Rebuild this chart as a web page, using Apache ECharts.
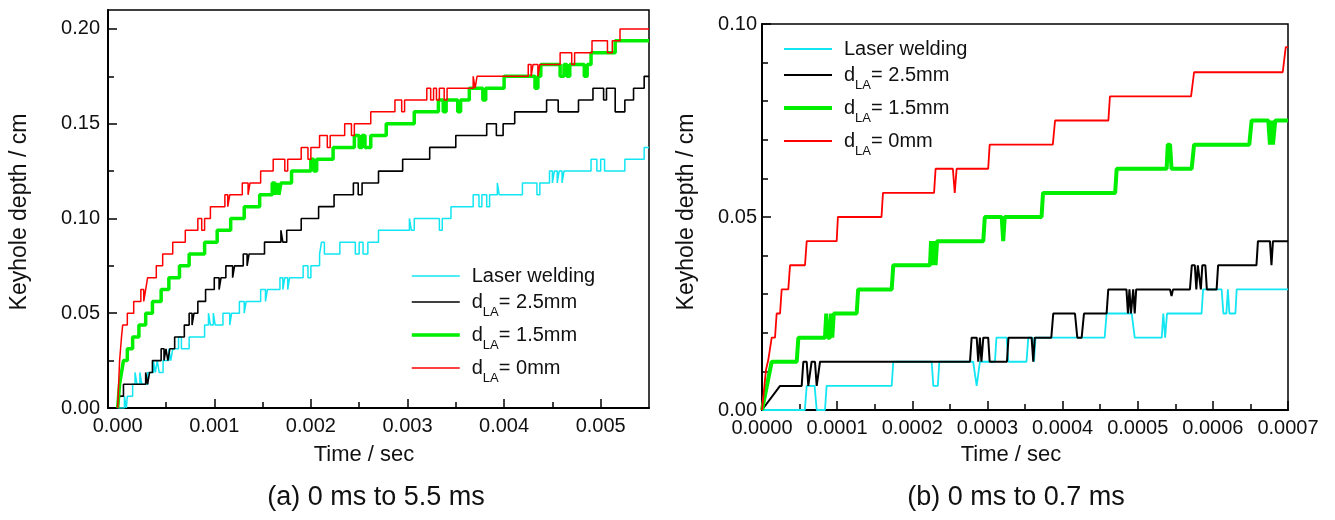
<!DOCTYPE html>
<html>
<head>
<meta charset="utf-8">
<script src="https://cdn.jsdelivr.net/npm/echarts@6/dist/echarts.min.js"></script>
<style>
html,body{margin:0;padding:0;background:#ffffff;}
#c{width:1335px;height:520px;}
</style>
</head>
<body>
<div id="c"></div>
<script>
// ---------- names / captions ----------
const seriesNames = ['Laser welding', 'dLA= 2.5mm', 'dLA= 1.5mm', 'dLA= 0mm'];
const captionA = '(a) 0 ms to 5.5 ms';
const captionB = '(b) 0 ms to 0.7 ms';
const yTitle = 'Keyhole depth / cm';
const xTitle = 'Time / sec';

// ---------- tick values ----------
const xTicksA = [0, 0.001, 0.002, 0.003, 0.004, 0.005];
const xMinorA = [0.0005, 0.0015, 0.0025, 0.0035, 0.0045];
const yTicksA = [0, 0.05, 0.10, 0.15, 0.20];
const yMinorA = [0.025, 0.075, 0.125, 0.175];
const xTicksB = [0, 0.0001, 0.0002, 0.0003, 0.0004, 0.0005, 0.0006, 0.0007];
const xMinorB = [0.00005, 0.00015, 0.00025, 0.00035, 0.00045, 0.00055, 0.00065];
const yTicksB = [0, 0.05, 0.10];
const yMinorB = [0.01, 0.02, 0.03, 0.04, 0.06, 0.07, 0.08, 0.09];

// ---------- panel (a): 0 - 5.5 ms  [time s, depth cm] (stepwise) ----------
const laserA = [
[0,0],[0.00007,0.00625],[0.00009,0],[0.0001,0.00625],[0.000155,0.0125],
[0.00018,0.01875],[0.0002,0.0125],[0.00023,0.01875],[0.00025,0.0125],[0.00031,0.01875],
[0.00037,0.025],[0.00039,0.01875],[0.00041,0.025],[0.00043,0.01875],[0.00047,0.025],
[0.00053,0.03125],[0.00055,0.025],[0.00057,0.03125],[0.00063,0.0375],[0.00066,0.03125],
[0.00074,0.0375],[0.0009,0.04375],[0.00094,0.05],[0.00096,0.04375],[0.00099,0.05],
[0.00101,0.04375],[0.00109,0.05],[0.00116,0.04375],[0.00118,0.05],[0.00126,0.05625],
[0.00131,0.05],[0.00133,0.05625],[0.00148,0.0625],[0.00153,0.05625],[0.00155,0.0625],
[0.00168,0.06875],[0.00171,0.0625],[0.00173,0.06875],[0.00176,0.0625],[0.00178,0.06875],
[0.00192,0.075],[0.00197,0.06875],[0.002,0.075],[0.00209,0.08125],[0.00211,0.0875],
[0.00214,0.08125],[0.0023,0.0875],[0.00246,0.08125],[0.0025,0.0875],[0.00254,0.08125],
[0.00259,0.0875],[0.0027,0.09375],[0.00302,0.1],[0.00304,0.09375],[0.00307,0.1],
[0.00333,0.09375],[0.00336,0.1],[0.00345,0.10625],[0.00368,0.1125],[0.00374,0.10625],
[0.00377,0.1125],[0.00382,0.10625],[0.00385,0.1125],[0.00393,0.11875],[0.00395,0.1125],
[0.00419,0.11875],[0.00434,0.1125],[0.00437,0.11875],[0.00447,0.125],[0.0045,0.11875],
[0.00452,0.125],[0.00455,0.11875],[0.00457,0.125],[0.0046,0.11875],[0.00462,0.125],
[0.0049,0.13125],[0.00496,0.125],[0.005,0.13125],[0.00504,0.125],[0.00525,0.13125],
[0.00545,0.1375],[0.0055,0.1375]
];
const d25A = [
[0,0],[0.00002,0.00625],[0.00006,0.0125],[0.00029,0.01875],[0.00031,0.0125],[0.00033,0.01875],
[0.00036,0.025],[0.00045,0.03125],[0.00048,0.025],[0.0005,0.03125],[0.00052,0.025],[0.00054,0.03125],
[0.00059,0.0375],[0.00069,0.04375],[0.00074,0.05],[0.00077,0.04375],[0.00079,0.05],
[0.00083,0.05625],[0.00091,0.0625],[0.001,0.06875],[0.00105,0.0625],[0.00107,0.06875],
[0.00112,0.075],[0.00119,0.06875],[0.00121,0.075],[0.0013,0.08125],[0.00134,0.075],
[0.00136,0.08125],[0.00152,0.0875],[0.00169,0.09375],[0.00171,0.0875],[0.00175,0.09375],
[0.0019,0.1],[0.00208,0.10625],[0.00224,0.1125],[0.00244,0.11875],[0.00249,0.1125],
[0.00253,0.11875],[0.0027,0.125],[0.00295,0.13125],[0.00323,0.1375],[0.0035,0.14375],
[0.00382,0.15],[0.00392,0.14375],[0.00399,0.15],[0.00411,0.15625],[0.00444,0.1625],
[0.00456,0.15625],[0.00477,0.1625],[0.00492,0.16875],[0.00503,0.1625],[0.00506,0.16875],
[0.00515,0.15625],[0.00525,0.1625],[0.00534,0.16875],[0.00545,0.175],[0.0055,0.175]
];
const d15A = [
[0,0],[0.00001,0.00625],[0.00002,0.0125],[0.00004,0.01875],[0.00006,0.025],[0.0001,0.03125],
[0.000155,0.0375],[0.00022,0.04375],[0.00029,0.05],[0.00036,0.05625],[0.00045,0.0625],
[0.00053,0.06875],[0.00064,0.075],[0.00074,0.08125],[0.0009,0.0875],[0.00103,0.09375],
[0.00117,0.1],[0.00131,0.10625],[0.00147,0.1125],[0.0016,0.11875],[0.00163,0.1125],
[0.00165,0.11875],[0.00167,0.1125],[0.00169,0.11875],[0.0018,0.125],[0.002,0.13125],
[0.00203,0.125],[0.00206,0.13125],[0.00223,0.1375],[0.00245,0.14375],[0.0025,0.1375],
[0.00253,0.14375],[0.00256,0.1375],[0.00262,0.14375],[0.00278,0.15],[0.00307,0.15625],
[0.00332,0.1625],[0.00337,0.15625],[0.0034,0.1625],[0.00352,0.15625],[0.00355,0.1625],
[0.00364,0.16875],[0.00378,0.1625],[0.00381,0.16875],[0.004,0.175],[0.00432,0.16875],
[0.00435,0.175],[0.00438,0.18125],[0.00458,0.175],[0.00462,0.18125],[0.00465,0.175],
[0.00468,0.18125],[0.00483,0.175],[0.00486,0.18125],[0.0049,0.1875],[0.00515,0.19375],
[0.0055,0.19375]
];
const d0A = [
[0,0],[0.00001,0.0125],[0.00002,0.025],[0.00003,0.03125],[0.00004,0.0375],[0.000052,0.04375],
[0.0001,0.05],[0.000166,0.05625],[0.00024,0.0625],[0.00027,0.05625],[0.00029,0.0625],
[0.00031,0.06875],[0.0004,0.075],[0.000466,0.08125],[0.00057,0.0875],[0.0007,0.09375],
[0.00083,0.1],[0.00087,0.09375],[0.0009,0.1],[0.00096,0.10625],[0.00111,0.1125],
[0.00114,0.10625],[0.00116,0.1125],[0.00129,0.11875],[0.00135,0.1125],[0.00137,0.11875],
[0.00148,0.125],[0.00161,0.13125],[0.00173,0.125],[0.00176,0.13125],[0.0019,0.1375],
[0.00197,0.13125],[0.002,0.1375],[0.00209,0.14375],[0.00217,0.1375],[0.0022,0.14375],
[0.00235,0.15],[0.00242,0.14375],[0.00245,0.15],[0.00262,0.15625],[0.00287,0.1625],
[0.00294,0.15625],[0.00297,0.1625],[0.0032,0.16875],[0.00324,0.1625],[0.00327,0.16875],
[0.0033,0.1625],[0.00333,0.16875],[0.00338,0.1625],[0.00341,0.16875],[0.00368,0.175],
[0.0037,0.16875],[0.00372,0.175],[0.00425,0.18125],[0.00428,0.175],[0.0043,0.18125],
[0.00435,0.175],[0.00437,0.18125],[0.00458,0.1875],[0.0047,0.18125],[0.00473,0.1875],
[0.00491,0.19375],[0.00507,0.1875],[0.00512,0.19375],[0.0052,0.2],[0.0055,0.2]
];

// ---------- panel (b): 0 - 0.7 ms  [time s, depth cm] ----------
const laserB = [
[0,0],[0.000057,0],[0.0000595,0.00625],[0.00007,0.00625],[0.0000728,0],[0.0000838,0],
[0.000086,0.00625],[0.0001726,0.00625],[0.0001747,0.0125],[0.0002258,0.0125],[0.000228,0.00625],
[0.000234,0.00625],[0.000236,0.0125],[0.000281,0.0125],[0.0002857,0.00625],[0.00029,0.0125],
[0.00031,0.0125],[0.000312,0.01875],[0.0003256,0.01875],[0.0003278,0.0125],[0.000352,0.0125],
[0.0003544,0.01875],[0.00036,0.01875],[0.000362,0.0125],[0.000364,0.01875],[0.000456,0.01875],
[0.0004586,0.025],[0.000492,0.025],[0.000496,0.01875],[0.000532,0.01875],[0.000534,0.025],
[0.0005365,0.01875],[0.000539,0.025],[0.000585,0.025],[0.000587,0.03125],[0.0006117,0.03125],
[0.000614,0.025],[0.000618,0.025],[0.00062,0.03125],[0.000622,0.025],[0.00063,0.025],
[0.0006317,0.03125],[0.0007,0.03125]
];
const d25B = [
[0,0],[0.000024,0.00625],[0.0000528,0.00625],[0.000055,0.0125],[0.0000595,0.0125],
[0.0000616,0.00625],[0.000066,0.0125],[0.0000705,0.0125],[0.0000728,0.00625],[0.0000772,0.0125],
[0.0002768,0.0125],[0.000279,0.01875],[0.0002857,0.01875],[0.0002878,0.0125],[0.00029,0.01875],
[0.000292,0.0125],[0.0002945,0.01875],[0.000301,0.01875],[0.000303,0.0125],[0.000326,0.0125],
[0.000328,0.01875],[0.0003588,0.01875],[0.000361,0.0125],[0.000363,0.01875],[0.000385,0.01875],
[0.0003876,0.025],[0.0004165,0.025],[0.0004196,0.01875],[0.0004254,0.01875],[0.0004285,0.025],
[0.0004586,0.025],[0.0004608,0.03125],[0.000485,0.03125],[0.000487,0.025],[0.000489,0.03125],
[0.000491,0.025],[0.000494,0.03125],[0.000496,0.025],[0.000498,0.03125],[0.000543,0.03125],
[0.000545,0.0295],[0.000547,0.03125],[0.0005695,0.03125],[0.000572,0.0375],[0.000576,0.0375],
[0.000578,0.03125],[0.00058,0.0375],[0.000584,0.03125],[0.000586,0.0375],[0.00059,0.0375],
[0.000592,0.03125],[0.000605,0.03125],[0.000607,0.0375],[0.000658,0.0375],[0.00066,0.04375],
[0.000676,0.04375],[0.000678,0.0375],[0.00068,0.04375],[0.0007,0.04375]
];
const d15B = [
[0,0],[0.0000129,0.0125],[0.0000462,0.0125],[0.0000484,0.01875],[0.0000838,0.01875],
[0.0000855,0.025],[0.0000875,0.01875],[0.0000905,0.01875],[0.000092,0.025],[0.0000935,0.01875],
[0.0000955,0.025],[0.000126,0.025],[0.000128,0.03125],[0.0001726,0.03125],[0.0001747,0.0375],
[0.0002236,0.0375],[0.000225,0.04375],[0.000227,0.0375],[0.000229,0.04375],[0.000231,0.0375],
[0.000233,0.04375],[0.0002945,0.04375],[0.0002965,0.05],[0.000319,0.05],[0.000321,0.04375],
[0.000323,0.05],[0.000372,0.05],[0.000374,0.05625],[0.00047,0.05625],[0.000472,0.0625],
[0.0005385,0.0625],[0.00054,0.06875],[0.000543,0.06875],[0.000545,0.0625],[0.0005718,0.0625],
[0.000575,0.06875],[0.0006485,0.06875],[0.0006516,0.075],[0.0006738,0.075],[0.000676,0.06875],
[0.000678,0.075],[0.00068,0.06875],[0.000683,0.075],[0.0007,0.075]
];
const d0B = [
[0,0],[0.0000053,0.0104],[0.0000084,0.013],[0.0000129,0.01875],[0.0000173,0.01875],
[0.0000195,0.025],[0.000024,0.025],[0.0000262,0.03125],[0.000035,0.03125],[0.0000373,0.0375],
[0.0000572,0.0375],[0.0000595,0.04375],[0.0000994,0.04375],[0.000101,0.05],[0.000159,0.05],
[0.000161,0.05625],[0.000229,0.05625],[0.000231,0.0625],[0.000254,0.0625],[0.0002565,0.05625],
[0.000259,0.0625],[0.000301,0.0625],[0.000303,0.06875],[0.000387,0.06875],[0.00039,0.075],
[0.000461,0.075],[0.000463,0.08125],[0.000571,0.08125],[0.000575,0.0875],[0.000693,0.0875],
[0.000697,0.094],[0.0007,0.094]
];

// ---------- styling ----------
const FONT = '"Liberation Sans", Arial, Helvetica, sans-serif';
const colors = ['#12E6F2', '#000000', '#00EE00', '#FF0000'];
const widthsA = [1.5, 1.6, 3.5, 1.5];
const widthsB = [1.8, 2, 4, 1.8];
const TXT = '#111111';

function fmt(d) { return function (v) { return Number(v).toFixed(d); }; }

function axis(kind, grid, min, max, ticks, len, labelled, dec, margin) {
  return {
    type: 'value', gridIndex: grid, min: min, max: max,
    position: kind === 'x' ? 'bottom' : 'left',
    axisLine: { show: labelled, onZero: false, lineStyle: { color: '#000', width: 2 } },
    axisTick: { show: true, inside: true, length: len, customValues: ticks,
                lineStyle: { color: '#000', width: 1.5 } },
    axisLabel: labelled ? { show: true, customValues: ticks, formatter: fmt(dec),
                fontFamily: FONT, fontSize: 20, color: TXT, margin: margin }
                        : { show: false },
    splitLine: { show: false },
    axisPointer: { show: false }
  };
}

function mk(name, data, i, widths, xi, yi, step) {
  return {
    type: 'line', name: name, data: data, xAxisIndex: xi, yAxisIndex: yi,
    step: step ? 'end' : false, symbol: 'none', showSymbol: false,
    lineStyle: { color: colors[i], width: widths[i] }, itemStyle: { color: colors[i] },
    animation: false, silent: true, z: 2 + i
  };
}

const legendText = {
  fontFamily: FONT, fontSize: 20, color: TXT, padding: [0, 0, 0, 7],
  rich: { sub: { fontFamily: FONT, fontSize: 13, color: TXT, lineHeight: 34, verticalAlign: 'bottom' } }
};
function legendFmt(n) { return n.replace('dLA', 'd{sub|LA}'); }
function legendCfg(left, top, widths) {
  return {
    orient: 'vertical', left: left, top: top, padding: 0, itemWidth: 48, itemHeight: 14, itemGap: 6,
    selectedMode: false, formatter: legendFmt, textStyle: legendText,
    itemStyle: { opacity: 0, borderWidth: 0 },
    data: seriesNames.map(function (n, i) {
      return { name: n, lineStyle: { color: colors[i], width: widths[i] }, itemStyle: { opacity: 0, borderWidth: 0 } };
    })
  };
}

const option = {
  backgroundColor: '#ffffff',
  animation: false,
  grid: [
    { left: 108, top: 10, width: 541, height: 398, show: true, borderColor: '#000', borderWidth: 1.5, backgroundColor: 'transparent' },
    { left: 762, top: 24, width: 526, height: 386, show: true, borderColor: '#000', borderWidth: 1.5, backgroundColor: 'transparent' }
  ],
  xAxis: [
    axis('x', 0, -0.0001, 0.0055, xTicksA, 9, true, 3, 8),
    axis('x', 0, -0.0001, 0.0055, xMinorA, 6, false),
    axis('x', 1, 0, 0.0007, xTicksB, 9, true, 4, 8),
    axis('x', 1, 0, 0.0007, xMinorB, 6, false)
  ],
  yAxis: [
    axis('y', 0, 0, 0.21, yTicksA, 9, true, 2, 8),
    axis('y', 0, 0, 0.21, yMinorA, 6, false),
    axis('y', 1, 0, 0.10, yTicksB, 9, true, 2, 5),
    axis('y', 1, 0, 0.10, yMinorB, 6, false)
  ],
  legend: [legendCfg(410, 266, [1.6, 1.6, 3.5, 1.6]), legendCfg(782, 39, [2, 2, 4, 2])],
  series: [
    mk(seriesNames[0], laserA, 0, widthsA, 0, 0, true),
    mk(seriesNames[1], d25A, 1, widthsA, 0, 0, true),
    mk(seriesNames[2], d15A, 2, widthsA, 0, 0, true),
    mk(seriesNames[3], d0A, 3, widthsA, 0, 0, true),
    mk(seriesNames[0], laserB, 0, widthsB, 2, 2, false),
    mk(seriesNames[1], d25B, 1, widthsB, 2, 2, false),
    mk(seriesNames[2], d15B, 2, widthsB, 2, 2, false),
    mk(seriesNames[3], d0B, 3, widthsB, 2, 2, false)
  ],
  graphic: [
    { type: 'text', x: 20, y: 212, rotation: Math.PI / 2,
      style: { text: yTitle, fontFamily: FONT, fontSize: 23, fill: TXT, align: 'center', verticalAlign: 'middle' } },
    { type: 'text', x: 687, y: 212, rotation: Math.PI / 2,
      style: { text: yTitle, fontFamily: FONT, fontSize: 23, fill: TXT, align: 'center', verticalAlign: 'middle' } },
    { type: 'text', x: 364, y: 455,
      style: { text: xTitle, fontFamily: FONT, fontSize: 22, fill: TXT, align: 'center', verticalAlign: 'middle' } },
    { type: 'text', x: 1011, y: 455,
      style: { text: xTitle, fontFamily: FONT, fontSize: 22, fill: TXT, align: 'center', verticalAlign: 'middle' } },
    { type: 'text', x: 376, y: 498,
      style: { text: captionA, fontFamily: FONT, fontSize: 27, fill: TXT, align: 'center', verticalAlign: 'middle' } },
    { type: 'text', x: 1016, y: 498,
      style: { text: captionB, fontFamily: FONT, fontSize: 27, fill: TXT, align: 'center', verticalAlign: 'middle' } }
  ]
};

const chart = echarts.init(document.getElementById('c'), null, { renderer: 'canvas' });
chart.setOption(option);
</script>
</body>
</html>
